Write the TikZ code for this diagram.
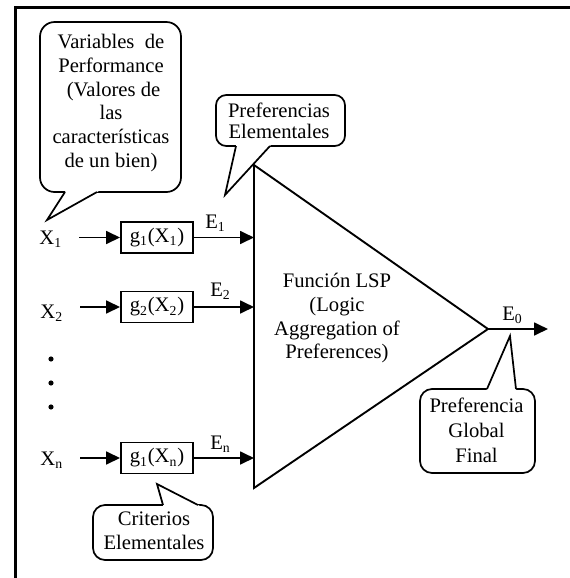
\documentclass[tikz,border=0pt]{standalone}
\usepackage{fontspec}
\setmainfont{Liberation Serif}
\usetikzlibrary{arrows.meta,calc}
\newcommand{\calloutptr}[3]{%
  \fill[white] ($(#2)!1.15!(#1)$) -- (#2) -- ($(#2)!1.15!(#3)$) -- cycle;
  \draw[bub] (#1) -- (#2) -- (#3);}
\begin{document}
\begin{tikzpicture}[x=0.5814pt,y=-0.5814pt,
  font=\fontsize{12pt}{13.8pt}\selectfont,
  frame/.style={line width=1.3pt},
  ln/.style={line width=1.1pt},
  arr/.style={ln,-{Triangle[length=8.1pt,width=7.5pt]}},
  gbox/.style={draw,line width=1.1pt,minimum width=41.9pt,minimum height=18pt,inner sep=0pt},
  bub/.style={line width=1pt,line join=miter},
  lbl/.style={inner sep=0pt,anchor=base west},
  txt/.style={inner sep=0pt,align=center,anchor=north},
  dotmark/.style={circle,fill=black,inner sep=0pt,minimum size=3pt}]
\useasboundingbox (0,0) rectangle (570,578);
% frame (top and left only)
\draw[frame] (570,7.5) -- (15.5,7.5) -- (15.5,578);

% callout bubbles
\draw[bub,rounded corners=8.5pt] (40,22) rectangle (181,192);
\coordinate (p1a) at (65,192); \coordinate (p1t) at (47,220); \coordinate (p1b) at (97,192);
\calloutptr{p1a}{p1t}{p1b}

\draw[bub,rounded corners=6pt] (216,95) rectangle (345,146);
\coordinate (p2a) at (236,146); \coordinate (p2t) at (225,195); \coordinate (p2b) at (270,146);
\calloutptr{p2a}{p2t}{p2b}

\draw[bub,rounded corners=7pt] (93,505) rectangle (213,560);
\coordinate (p3a) at (163,505); \coordinate (p3t) at (157,484); \coordinate (p3b) at (198,505);
\calloutptr{p3a}{p3t}{p3b}

\draw[bub,rounded corners=7pt] (420,389) rectangle (535,473);
\coordinate (p4a) at (487,389); \coordinate (p4t) at (510,336); \coordinate (p4b) at (516,389);
\calloutptr{p4a}{p4t}{p4b}

% triangle (LSP function)
\coordinate (tA) at (254,165);
\coordinate (tB) at (254,488);
\coordinate (tC) at (488,329);
\draw[ln,line join=miter] (tA) -- (tC) -- (tB) -- cycle;

% inputs
\node[lbl] (X1) at (39,244) {X\textsubscript{1}};
\node[lbl] (X2) at (40,318) {X\textsubscript{2}};
\node[lbl] (Xn) at (40,465) {X\textsubscript{n}};

\node[gbox] (g1) at (157,237.5) {g\textsubscript{1}(X\textsubscript{1})};
\node[gbox] (g2) at (157,307) {g\textsubscript{2}(X\textsubscript{2})};
\node[gbox] (gn) at (157,458) {g\textsubscript{1}(X\textsubscript{n})};

\draw[arr,shorten <=9.9pt] (X1.east |- g1.west) -- (g1.west);
\draw[arr,shorten <=9.9pt] (X2.east |- g2.west) -- (g2.west);
\draw[arr,shorten <=9.9pt] (Xn.east |- gn.west) -- (gn.west);

\draw[arr] (g1.east) -- (g1.east -| tA);
\draw[arr] (g2.east) -- (g2.east -| tA);
\draw[arr] (gn.east) -- (gn.east -| tA);

\node[lbl] (E1) at (205,228) {E\textsubscript{1}};
\node[lbl] (E2) at (210,296) {E\textsubscript{2}};
\node[lbl] (En) at (210,449) {E\textsubscript{n}};

\node[dotmark] (d1) at (51,359) {};
\node[dotmark] (d2) at (51,383) {};
\node[dotmark] (d3) at (51,407) {};

% output
\coordinate (out) at (548,329);
\draw[arr] (tC) -- (out);
\node[lbl] (E0) at (502,320) {E\textsubscript{0}};

% texts
\node[txt] (lsp) at (337,273) {Función LSP\\(Logic\\Aggregation of\\Preferences)};
\node[txt] (c1) at (111,34) {Variables\ \ de\\Performance\\\ (Valores de\\las\\características\\de un bien)};
\node[txt,font=\fontsize{12pt}{12.2pt}\selectfont] (c2) at (279,103) {Preferencias\\Elementales};
\node[txt,font=\fontsize{12pt}{14pt}\selectfont] (c3) at (154,511) {Criterios\\Elementales};
\node[txt,font=\fontsize{12pt}{14.4pt}\selectfont] (c4) at (476.5,398) {Preferencia\\Global\\Final};
\end{tikzpicture}
\end{document}
